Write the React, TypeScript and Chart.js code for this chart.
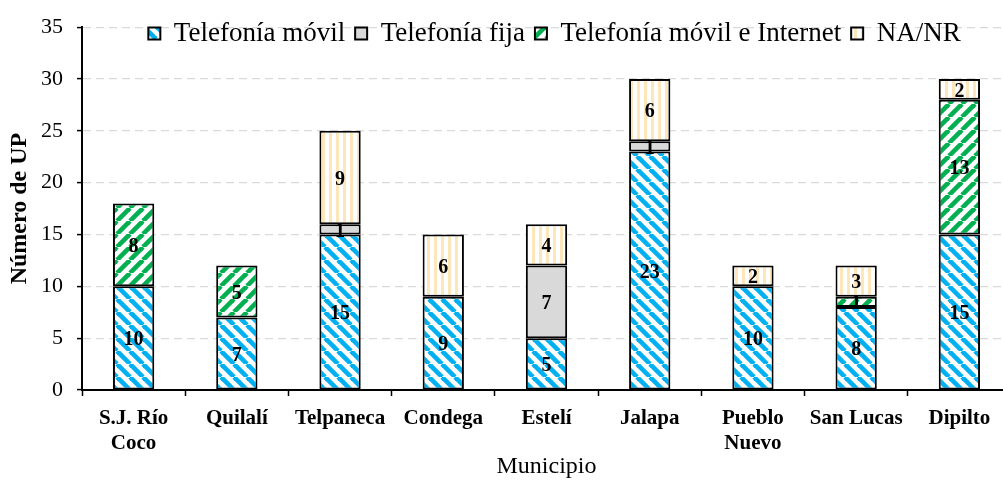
import React, { useEffect, useRef } from 'react';
import { Chart, registerables } from 'chart.js';

Chart.register(...registerables);

const FONT = "'Liberation Serif', 'Times New Roman', serif";

const categories: (string | string[])[] = [
  ['S.J. Río', 'Coco'],
  'Quilalí',
  'Telpaneca',
  'Condega',
  'Estelí',
  'Jalapa',
  ['Pueblo', 'Nuevo'],
  'San Lucas',
  'Dipilto',
];
const seriesNames = ['Telefonía móvil', 'Telefonía fija', 'Telefonía móvil e Internet', 'NA/NR'];
const movil = [10, 7, 15, 9, 5, 23, 10, 8, 15];
const fija = [null, null, 1, null, 7, 1, null, null, null];
const movilInternet = [8, 5, null, null, null, null, null, 1, 13];
const nanr = [null, null, 9, 6, 4, 6, 2, 3, 2];
const yMin = 0;
const yMax = 35;
const yStep = 5;
const yTitle = 'Número de UP';
const xTitle = 'Municipio';

function diagPattern(color: string, dir: 1 | -1, size = 13, lw = 4.6) {
  const c = document.createElement('canvas');
  c.width = size;
  c.height = size;
  const g = c.getContext('2d')!;
  g.fillStyle = '#ffffff';
  g.fillRect(0, 0, size, size);
  g.strokeStyle = color;
  g.lineWidth = lw;
  for (const off of [-size, 0, size]) {
    g.beginPath();
    if (dir === 1) {
      g.moveTo(off, 0);
      g.lineTo(off + size, size);
    } else {
      g.moveTo(off, size);
      g.lineTo(off + size, 0);
    }
    g.stroke();
  }
  return g.createPattern(c, 'repeat')!;
}

function vPattern(color: string, w = 7, sw = 3) {
  const c = document.createElement('canvas');
  c.width = w;
  c.height = 4;
  const g = c.getContext('2d')!;
  g.fillStyle = '#ffffff';
  g.fillRect(0, 0, w, 4);
  g.fillStyle = color;
  g.fillRect(0, 0, sw, 4);
  return g.createPattern(c, 'repeat')!;
}

// Place the legend inside the top of the plot area, centred over it
const legendPlace = {
  id: 'legendPlace',
  afterLayout(chart: any) {
    const lg = chart.legend;
    if (!lg) return;
    const h = lg.height;
    lg.top = 10;
    lg.bottom = 10 + h;
    lg.left = chart.chartArea.left + 16;
    lg.right = chart.chartArea.right;
  },
};

const valueLabels = {
  id: 'valueLabels',
  afterDatasetsDraw(chart: any) {
    const ctx = chart.ctx;
    ctx.save();
    ctx.font = `bold 20px ${FONT}`;
    ctx.fillStyle = '#000';
    ctx.textAlign = 'center';
    ctx.textBaseline = 'middle';
    chart.data.datasets.forEach((ds: any, i: number) => {
      const meta = chart.getDatasetMeta(i);
      meta.data.forEach((el: any, j: number) => {
        const v = ds.data[j];
        if (v == null || v === 0) return;
        const { x, y, base } = el.getProps(['x', 'y', 'base'], true);
        ctx.fillText(String(v), x, (y + base) / 2 + 2);
      });
    });
    ctx.restore();
  },
};

export default function App() {
  const ref = useRef<HTMLCanvasElement | null>(null);

  useEffect(() => {
    if (!ref.current) return;
    const blue = diagPattern('#00B0F0', 1);
    const green = diagPattern('#00B050', -1);
    const cream = vPattern('#FCE6BA');
    const common = {
      borderColor: '#000000',
      borderWidth: 2,
      borderSkipped: false,
      barPercentage: 0.4,
      categoryPercentage: 1,
    };
    const chart = new Chart(ref.current, {
      type: 'bar',
      data: {
        labels: categories,
        datasets: [
          { label: seriesNames[0], data: movil, backgroundColor: blue, ...common },
          { label: seriesNames[1], data: fija, backgroundColor: '#D9D9D9', ...common },
          { label: seriesNames[2], data: movilInternet, backgroundColor: green, ...common },
          { label: seriesNames[3], data: nanr, backgroundColor: cream, ...common },
        ] as any,
      },
      options: {
        responsive: false,
        animation: false,
        devicePixelRatio: 1,
        layout: { padding: { top: -24, left: 0, right: 1, bottom: 0 } },
        plugins: {
          tooltip: { enabled: false },
          legend: {
            position: 'top',
            align: 'center',
            labels: {
              boxWidth: 12,
              boxHeight: 12,
              padding: 10,
              color: '#000',
              font: { family: FONT, size: 27 },
            },
          },
        },
        scales: {
          x: {
            stacked: true,
            offset: true,
            grid: {
              offset: true,
              drawOnChartArea: false,
              drawTicks: true,
              tickLength: 6,
              tickColor: '#000',
              tickWidth: 1.5,
            },
            border: { display: true, color: '#000', width: 2 },
            ticks: {
              color: '#000',
              autoSkip: false,
              maxRotation: 0,
              padding: 10,
              font: { family: FONT, size: 21, weight: 'bold', lineHeight: 1.2 },
            },
            title: {
              display: true,
              text: xTitle,
              color: '#000',
              padding: { top: 0, bottom: 0 },
              font: { family: FONT, size: 24, lineHeight: 1.2 },
            },
            afterFit(scale: any) {
              scale.height = 91;
            },
          },
          y: {
            stacked: true,
            min: yMin,
            max: yMax,
            ticks: {
              stepSize: yStep,
              color: '#000',
              padding: 14,
              font: { family: FONT, size: 22 },
            },
            grid: {
              color: '#D9D9D9',
              lineWidth: 1.2,
              tickColor: '#000',
              tickLength: 5,
              tickWidth: 1.5,
            },
            border: { display: true, color: '#000', width: 2, dash: [8, 5] },
            title: {
              display: true,
              text: yTitle,
              color: '#000',
              padding: { top: 5, bottom: 0 },
              font: { family: FONT, size: 24, weight: 'bold', lineHeight: 1.2 },
            },
            afterFit(scale: any) {
              scale.width = 82;
            },
          },
        },
      },
      plugins: [legendPlace, valueLabels],
    });
    return () => chart.destroy();
  }, []);

  return (
    <div
      style={{
        position: 'fixed',
        left: 0,
        top: 0,
        width: 1003,
        height: 481,
        overflow: 'hidden',
        background: '#fff',
      }}
    >
      <canvas ref={ref} width={1012} height={481} style={{ display: 'block' }} />
    </div>
  );
}
